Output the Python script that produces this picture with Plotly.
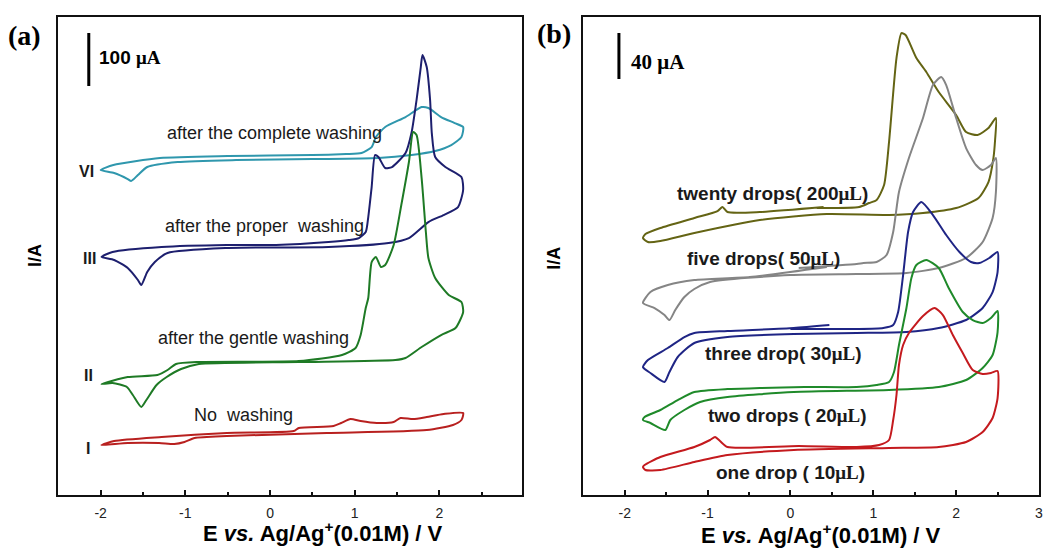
import plotly.graph_objects as go

# ---------------- Panel (a) data: E (V) and I (display units; 53 units = 100 uA) ----------------
E_a_VI = [-2.0, -1.85, -1.3, -0.5, 0.5, 0.9, 1.08, 1.20, 1.25, 1.36, 1.6, 1.79, 1.87, 2.02, 2.18, 2.28,
          2.26, 2.14, 1.95, 1.67, 1.28, 0.5, -0.4, -1.09, -1.45, -1.56, -1.64, -1.68, -1.84, -2.0]
I_a_VI = [325, 330, 337, 339, 340, 341, 342, 348, 358, 368, 378, 388, 387, 378, 372, 368,
          358, 350, 344, 340, 337, 336, 335, 333, 328, 320, 314, 316, 322, 325]

E_a_III = [-1.99, -1.86, -1.28, -0.51, 0.07, 0.69, 0.93, 1.05, 1.13, 1.16, 1.20, 1.24, 1.28, 1.36, 1.44,
           1.60, 1.67, 1.73, 1.78, 1.80, 1.85, 1.89, 1.91, 1.95, 2.07, 2.26, 2.28, 2.22, 2.05, 1.87,
           1.64, 1.40, 0.69, -0.51, -1.21, -1.36, -1.45, -1.52, -1.56, -1.68, -1.84, -1.99]
I_a_III = [238, 243, 248, 250, 250, 253, 255, 257, 263, 278, 308, 340, 338, 327, 328,
           342, 362, 395, 428, 440, 428, 395, 362, 338, 328, 318, 305, 288, 280, 273,
           257, 252, 248, 247, 242, 233, 223, 210, 215, 227, 235, 238]

E_a_II = [-1.99, -1.68, -1.33, -1.21, -1.11, -0.84, 0.34, 0.85, 1.01, 1.07, 1.13, 1.16, 1.20, 1.25, 1.31,
          1.36, 1.46, 1.55, 1.64, 1.69, 1.73, 1.79, 1.84, 1.87, 1.95, 2.11, 2.26, 2.28, 2.19, 2.02,
          1.79, 1.60, 1.48, 0.34, -0.84, -1.05, -1.22, -1.34, -1.46, -1.52, -1.62, -1.69, -1.86, -1.99]
I_a_II = [111, 118, 120, 125, 131, 133, 134, 140, 147, 160, 187, 197, 233, 238, 228,
          230, 250, 290, 333, 363, 360, 317, 263, 237, 217, 200, 193, 183, 167, 160,
          148, 137, 135, 133, 131, 126, 118, 110, 95, 88, 100, 108, 112, 111]

E_a_I = [-1.99, -1.84, -1.28, -0.51, 0.28, 0.34, 0.75, 0.84, 0.95, 1.07, 1.26, 1.46, 1.54, 1.69,
         1.85, 2.05, 2.28, 2.26, 2.16, 1.85, 0.67, -0.51, -0.89, -1.01, -1.13, -1.31, -1.68, -1.99]
I_a_I = [50, 54, 58, 62, 64, 67, 69, 72, 76, 74, 72, 73, 77, 76,
         78, 81, 82, 75, 70, 65, 62, 59, 57, 53, 51, 52, 52, 50]

# ---------------- Panel (b) data: E (V) and I (display units; 46 units = 40 uA) ----------------
E_b_20 = [0.32, 0.83, 0.95, 1.04, 1.13, 1.19, 1.28, 1.34, 1.39, 1.52, 1.64, 1.79, 2.00, 2.12, 2.26, 2.39,
          2.48, 2.47, 2.45, 2.39, 2.27, 2.00, 1.60, 1.19, 0.44, -0.37, -1.16, -1.57, -1.72, -1.78,
          -1.75, -1.57, -1.16, -0.88, -0.82, -0.76, -0.37, 0.40]
I_b_20 = [287, 288, 292, 295, 310, 353, 437, 462, 460, 437, 423, 403, 380, 363, 360, 367,
          377, 355, 337, 313, 297, 287, 282, 280, 281, 275, 262, 254, 253, 257,
          261, 267, 277, 284, 288, 283, 283, 288]

E_b_5 = [0.10, 0.80, 0.88, 1.04, 1.16, 1.24, 1.31, 1.43, 1.60, 1.72, 1.82, 1.88, 2.00, 2.12, 2.24, 2.32,
         2.42, 2.48, 2.48, 2.44, 2.32, 2.12, 1.79, 1.40, 0.80, 0.00, -0.97, -1.16, -1.28, -1.39,
         -1.46, -1.52, -1.64, -1.78, -1.69, -1.48, -1.16, -0.49, 0.44]
I_b_5 = [227, 231, 232, 233, 240, 263, 303, 337, 377, 410, 418, 410, 377, 347, 330, 325,
         330, 337, 303, 277, 253, 237, 227, 222, 221, 220, 213, 206, 198, 185,
         175, 180, 187, 192, 203, 210, 215, 218, 228]

E_b_3 = [0.00, 0.80, 1.12, 1.24, 1.30, 1.36, 1.42, 1.48, 1.58, 1.72, 1.88, 2.04, 2.18, 2.28, 2.40, 2.50,
         2.50, 2.44, 2.32, 2.12, 1.79, 1.40, 0.80, 0.04, -0.76, -1.16, -1.36, -1.46, -1.52, -1.69,
         -1.78, -1.72, -1.48, -1.28, -1.16, -0.76, 0.04, 0.47]
I_b_3 = [166, 166, 167, 170, 183, 220, 263, 283, 293, 280, 260, 243, 233, 232, 237, 243,
         223, 203, 187, 175, 167, 163, 162, 161, 158, 152, 138, 123, 113, 122,
         128, 135, 147, 158, 162, 164, 167, 170]

E_b_2 = [0.17, 0.80, 1.04, 1.19, 1.25, 1.31, 1.40, 1.46, 1.52, 1.64, 1.79, 1.91, 2.08, 2.20, 2.32, 2.42,
         2.50, 2.50, 2.44, 2.32, 2.12, 1.79, 1.19, 0.04, -0.76, -1.09, -1.28, -1.45, -1.51, -1.69,
         -1.78, -1.76, -1.57, -1.36, -1.16, -0.76, -0.37, 0.17]
I_b_2 = [108, 108, 110, 113, 123, 150, 187, 217, 230, 235, 227, 207, 183, 175, 172, 177,
         184, 163, 140, 127, 115, 108, 105, 103, 98, 93, 85, 75, 65, 72,
         75, 78, 85, 95, 103, 106, 107, 108]

E_b_1 = [0.10, 0.80, 1.07, 1.19, 1.24, 1.28, 1.31, 1.36, 1.43, 1.60, 1.74, 1.84, 1.96, 2.08, 2.20, 2.32,
         2.42, 2.50, 2.50, 2.44, 2.32, 2.12, 1.79, 1.19, 0.04, -0.76, -1.16, -1.57, -1.75, -1.78,
         -1.76, -1.57, -1.16, -0.97, -0.91, -0.85, -0.76, 0.10]
I_b_1 = [49, 48, 50, 55, 75, 100, 130, 150, 162, 179, 187, 180, 160, 142, 125, 121,
         122, 124, 97, 77, 63, 53, 48, 47, 45, 40, 33, 25, 25, 28,
         30, 38, 48, 55, 58, 54, 48, 49]

# scale bars (display units)
SCALE_A_E = -2.14
SCALE_A_I = [409, 462]   # 100 uA
SCALE_B_E = -2.07
SCALE_B_I = [416, 462]   # 40 uA

TICK_VALS = [-2, -1, 0, 1, 2, 3]
TICK_TEXT = ["-2", "-1", "0", "1", "2", "3"]
MINOR_VALS = [-1.5, -0.5, 0.5, 1.5, 2.5]

SANS = "Liberation Sans, Arial, sans-serif"
SERIF = "Liberation Serif, Times New Roman, serif"

fig = go.Figure()


def add(E, I, color, xa, ya, width=2.0):
    fig.add_trace(go.Scatter(x=E, y=I, mode="lines", xaxis=xa, yaxis=ya,
                             line=dict(color=color, width=width, shape="spline", smoothing=0.6),
                             showlegend=False, hoverinfo="skip"))


add(E_a_VI, I_a_VI, "#2f97ad", "x", "y")
add(E_a_III, I_a_III, "#1d1f6e", "x", "y")
add(E_a_II, I_a_II, "#1e7a25", "x", "y")
add(E_a_I, I_a_I, "#b8201f", "x", "y")

add(E_b_20, I_b_20, "#646414", "x2", "y2")
add(E_b_5, I_b_5, "#858585", "x2", "y2")
add(E_b_3, I_b_3, "#1f2585", "x2", "y2")
add(E_b_2, I_b_2, "#1f8a2a", "x2", "y2")
add(E_b_1, I_b_1, "#c41a1e", "x2", "y2")

fig.add_trace(go.Scatter(x=[SCALE_A_E, SCALE_A_E], y=SCALE_A_I, mode="lines", xaxis="x", yaxis="y",
                         line=dict(color="black", width=3), showlegend=False, hoverinfo="skip"))
fig.add_trace(go.Scatter(x=[SCALE_B_E, SCALE_B_E], y=SCALE_B_I, mode="lines", xaxis="x2", yaxis="y2",
                         line=dict(color="black", width=3), showlegend=False, hoverinfo="skip"))

xcommon = dict(showline=True, mirror=True, linecolor="#111", linewidth=2,
               ticks="inside", ticklen=5, tickwidth=1.5, tickcolor="#111",
               tickmode="array", tickvals=TICK_VALS, ticktext=TICK_TEXT,
               tickfont=dict(family=SANS, size=14, color="#222"),
               ticklabelstandoff=4, ticklabeloverflow="allow",
               showgrid=False, zeroline=False,
               minor=dict(tickmode="array", tickvals=MINOR_VALS, ticks="inside", ticklen=3,
                          tickwidth=1.5, tickcolor="#111", showgrid=False))
ycommon = dict(showline=True, mirror=True, linecolor="#111", linewidth=2,
               ticks="", showticklabels=False, showgrid=False, zeroline=False,
               range=[0, 478], domain=[0.1, 0.969])

fig.update_layout(
    width=1043, height=550,
    margin=dict(l=0, r=0, t=0, b=0),
    paper_bgcolor="white", plot_bgcolor="white",
    xaxis=dict(domain=[0.0561, 0.5024], range=[-2.5, 2.975], anchor="y", **xcommon),
    yaxis=dict(anchor="x", **ycommon),
    xaxis2=dict(domain=[0.5614, 1.0], range=[-2.5, 3.0], anchor="y2", **xcommon),
    yaxis2=dict(anchor="x2", **ycommon),
)

ann = []


def txt(x, y, text, size, xref, yref, family=SANS, color="#1a1a1a", xanchor="center", angle=0):
    ann.append(dict(x=x, y=y, xref=xref, yref=yref, text=text, showarrow=False,
                    font=dict(family=family, size=size, color=color),
                    xanchor=xanchor, yanchor="middle", textangle=angle))


# panel letters
txt(0.024, 0.936, "<b>(a)</b>", 28, "paper", "paper", family=SERIF, color="black")
txt(0.533, 0.94, "<b>(b)</b>", 28, "paper", "paper", family=SERIF, color="black")

# y titles
txt(0.0336, 0.536, "<b>I/A</b>", 18, "paper", "paper", color="black", angle=-90)
txt(0.533, 0.531, "<b>I/A</b>", 18, "paper", "paper", color="black", angle=-90)

# x titles
xt = "<b>E <i>vs.</i> Ag/Ag<sup>+</sup>(0.01M) / V</b>"
txt(0.3106, 0.033, xt, 22, "paper", "paper", color="black")
txt(0.790, 0.029, xt, 22, "paper", "paper", color="black")

# scale labels
txt(-2.047, 438, "<b>100 <span style='font-family:Liberation Serif'>μA</span></b>", 19, "x", "y",
    color="black", xanchor="left")
txt(-1.95, 433, "<b><span style='font-family:Liberation Serif'>40 μA</span></b>", 21, "x2", "y2",
    color="black", xanchor="left")

# panel (a) labels
txt(0.05, 362, "after the complete washing", 18, "x", "y")
txt(-0.06, 269, "after the proper  washing", 18, "x", "y")
txt(-0.19, 157, "after the gentle washing", 18, "x", "y")
txt(-0.31, 80, "No  washing", 18, "x", "y")
txt(-2.17, 324, "<b>VI</b>", 16, "x", "y")
txt(-2.13, 237, "<b>III</b>", 16, "x", "y")
txt(-2.14, 120, "<b>II</b>", 16, "x", "y")
txt(-2.15, 47, "<b>I</b>", 16, "x", "y")

# panel (b) labels
mu = "<span style='font-family:Liberation Serif'>μL</span>"
txt(-0.22, 302, f"<b>twenty drops( 200{mu})</b>", 19, "x2", "y2")
txt(-0.33, 237, f"<b>five drops( 50{mu})</b>", 19, "x2", "y2")
txt(-0.09, 142, f"<b>three drop( 30{mu})</b>", 19, "x2", "y2")
txt(-0.03, 80, f"<b>two drops ( 20{mu})</b>", 19, "x2", "y2")
txt(0.0, 23, f"<b>one drop ( 10{mu})</b>", 19, "x2", "y2")

fig.update_layout(annotations=ann)
fig.write_html("out.html")
